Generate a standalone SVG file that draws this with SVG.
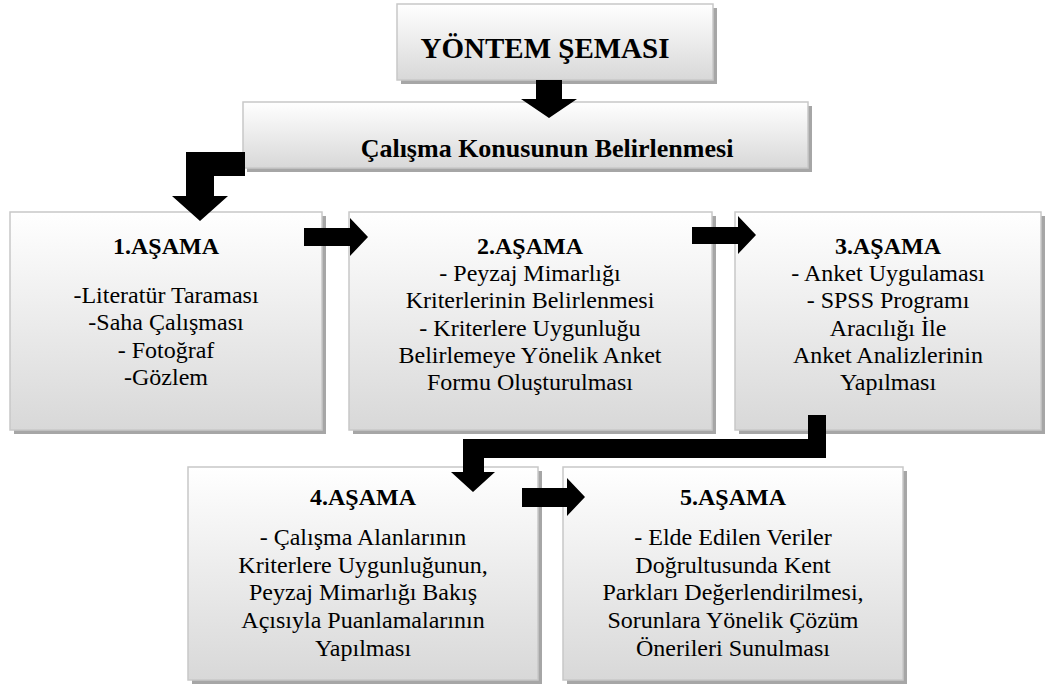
<svg xmlns="http://www.w3.org/2000/svg" width="1056" height="686" viewBox="0 0 1056 686">
<defs>
<linearGradient id="g" x1="0" y1="0" x2="0" y2="1">
<stop offset="0" stop-color="#ffffff"/>
<stop offset="1" stop-color="#d8d8d8"/>
</linearGradient>
<style>
.sh{fill:#a6a6a6}
.bx{fill:url(#g);stroke:#c8c8c8;stroke-width:1.5}
.t{font-family:'Liberation Serif','DejaVu Serif',serif;font-size:24px;fill:#000;text-anchor:middle}
.b{font-weight:bold}
.h1{font-size:29px}
.h2{font-size:26px}
.ar{fill:#000}
</style>
</defs>
<rect width="1056" height="686" fill="#fff"/>

<g id="title">
<rect class="sh" x="401" y="8" width="316" height="76"/>
<rect class="bx" x="397" y="4" width="316" height="76"/>
<text class="t b h1" x="545" y="58">YÖNTEM ŞEMASI</text>
</g>

<g id="konu">
<rect class="sh" x="247" y="106" width="565" height="66"/>
<rect class="bx" x="243" y="102" width="565" height="66"/>
<text class="t b h2" x="547" y="157">Çalışma Konusunun Belirlenmesi</text>
</g>

<g id="asama1">
<rect class="sh" x="14" y="216" width="312" height="218"/>
<rect class="bx" x="10" y="212" width="312" height="218"/>
<text class="t b" x="166" y="254">1.AŞAMA</text>
<text class="t" x="166" y="303">-Literatür Taraması</text>
<text class="t" x="166" y="330">-Saha Çalışması</text>
<text class="t" x="166" y="358">- Fotoğraf</text>
<text class="t" x="166" y="385">-Gözlem</text>
</g>

<g id="asama2">
<rect class="sh" x="353" y="216" width="363" height="218"/>
<rect class="bx" x="349" y="212" width="363" height="218"/>
<text class="t b" x="530" y="254">2.AŞAMA</text>
<text class="t" x="530" y="281">- Peyzaj Mimarlığı</text>
<text class="t" x="530" y="308">Kriterlerinin Belirlenmesi</text>
<text class="t" x="530" y="336">- Kriterlere Uygunluğu</text>
<text class="t" x="530" y="363">Belirlemeye Yönelik Anket</text>
<text class="t" x="530" y="390">Formu Oluşturulması</text>
</g>

<g id="asama3">
<rect class="sh" x="739" y="216" width="306" height="218"/>
<rect class="bx" x="735" y="212" width="306" height="218"/>
<text class="t b" x="888" y="254">3.AŞAMA</text>
<text class="t" x="888" y="281">- Anket Uygulaması</text>
<text class="t" x="888" y="308">- SPSS Programı</text>
<text class="t" x="888" y="336">Aracılığı İle</text>
<text class="t" x="888" y="363">Anket Analizlerinin</text>
<text class="t" x="888" y="390">Yapılması</text>
</g>

<g id="asama4">
<rect class="sh" x="192" y="471" width="350" height="213"/>
<rect class="bx" x="188" y="467" width="350" height="213"/>
<text class="t b" x="363" y="505">4.AŞAMA</text>
<text class="t" x="363" y="545">- Çalışma Alanlarının</text>
<text class="t" x="363" y="573">Kriterlere Uygunluğunun,</text>
<text class="t" x="363" y="600">Peyzaj Mimarlığı Bakış</text>
<text class="t" x="363" y="628">Açısıyla Puanlamalarının</text>
<text class="t" x="363" y="656">Yapılması</text>
</g>

<g id="asama5">
<rect class="sh" x="567" y="471" width="340" height="213"/>
<rect class="bx" x="563" y="467" width="340" height="213"/>
<text class="t b" x="733" y="505">5.AŞAMA</text>
<text class="t" x="733" y="545">- Elde Edilen Veriler</text>
<text class="t" x="733" y="573">Doğrultusunda Kent</text>
<text class="t" x="733" y="600">Parkları Değerlendirilmesi,</text>
<text class="t" x="733" y="628">Sorunlara Yönelik Çözüm</text>
<text class="t" x="733" y="656">Önerileri Sunulması</text>
</g>

<g id="connectors">
<polygon class="ar" points="536,80 562,80 562,99 577,99 549,118 521,99 536,99"/>
<polygon class="ar" points="245,152 245,176 214,176 214,196 228,196 200,221 172,196 186,196 186,152"/>
<polygon class="ar" points="304,228 350,228 350,218 368,237 350,256 350,246 304,246"/>
<polygon class="ar" points="692,227 738,227 738,216 756,235 738,254 738,244 692,244"/>
<polygon class="ar" points="826,415 826,458 484,458 484,472 495,472 473,492 451,472 463,472 463,439 808,439 808,415"/>
<polygon class="ar" points="522,488 567,488 567,478 585,497 567,516 567,507 522,507"/>
</g>
</svg>
